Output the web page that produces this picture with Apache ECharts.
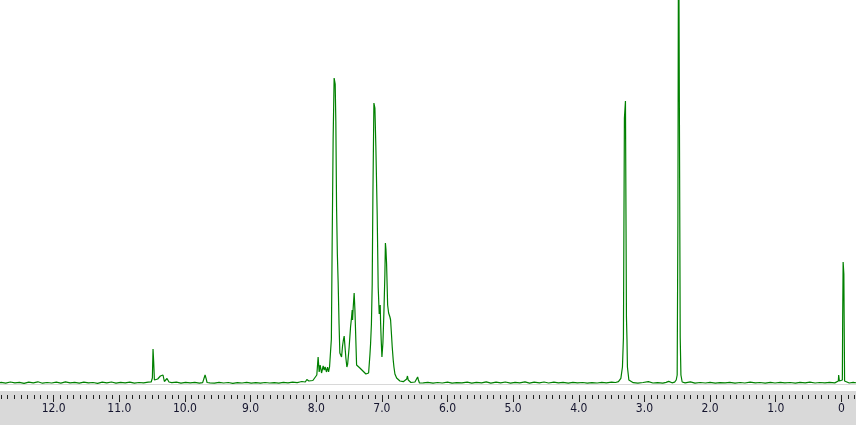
<!DOCTYPE html>
<html>
<head>
<meta charset="utf-8">
<script src="https://cdn.jsdelivr.net/npm/echarts@6.0.0/dist/echarts.min.js"></script>
<style>
html, body { margin: 0; padding: 0; background: #fff; }
#main { width: 856px; height: 425px; }
</style>
</head>
<body>
<div id="main"></div>
<script>
// 1H NMR spectrum, [shift in ppm, intensity]
var noiseHigh = [[12.95,1.2],[12.88,0.6],[12.8,1.6],[12.73,0.9],[12.66,2.0],[12.59,1.1],[12.52,1.7],[12.45,0.7],[12.38,1.9],[12.31,1.2],[12.24,2.2],[12.17,0.8],[12.1,1.5],[12.03,1.0],[11.96,1.8],[11.89,0.9],[11.82,2.1],[11.75,1.2],[11.68,1.6],[11.61,0.8],[11.54,1.9],[11.47,1.1],[11.4,1.5],[11.33,0.7],[11.26,1.8],[11.19,1.2],[11.12,2.0],[11.05,0.9],[10.98,1.6],[10.91,1.1],[10.84,1.9],[10.77,0.8],[10.7,1.5],[10.63,1.2],[10.56,1.8]];
var peakNH = [[10.514,2],[10.496,6],[10.486,35],[10.476,22],[10.465,4],[10.435,3],[10.415,5],[10.395,7],[10.374,8],[10.361,6],[10.349,6],[10.334,9],[10.313,2.5],[10.293,4],[10.273,5.5],[10.243,2]];
var noiseMid1 = [[10.2,1.3],[10.13,1.8],[10.06,0.9],[9.99,1.6],[9.92,1.1],[9.85,1.7],[9.78,0.8],[9.73,1.4]];
var peak97 = [[9.706,3],[9.693,9],[9.678,5.7],[9.663,1.5]];
var noiseMid2 = [[9.62,1.2],[9.55,0.8],[9.48,1.6],[9.41,1.0],[9.34,1.5],[9.27,0.7],[9.2,1.4],[9.13,1.0],[9.06,1.7],[8.99,0.9],[8.92,1.3],[8.85,0.8],[8.78,1.5],[8.71,1.0],[8.64,1.4],[8.57,0.9],[8.5,1.6],[8.43,1.1],[8.36,1.8],[8.29,1.3],[8.25,2]];
var aromatic = [[8.219,2.5],[8.189,4],[8.166,2],[8.143,4.5],[8.112,3],[8.082,5],[8.051,3.5],[8.021,5],[7.991,9],[7.971,27],[7.955,12],[7.940,19],[7.919,11],[7.894,18],[7.879,14],[7.864,17],[7.843,12],[7.827,17],[7.812,12],[7.797,17],[7.782,32],[7.769,45],[7.757,141],[7.742,246],[7.727,306],[7.711,300],[7.701,262],[7.690,177],[7.678,130],[7.666,102],[7.652,60],[7.640,31],[7.632,33],[7.614,27],[7.599,38],[7.586,44],[7.574,48],[7.560,36],[7.548,26],[7.533,17],[7.521,20],[7.498,37],[7.477,57],[7.461,67],[7.452,74],[7.446,64],[7.437,76],[7.422,91],[7.411,75],[7.401,54],[7.385,19],[7.365,17],[7.335,16],[7.304,14],[7.274,12],[7.243,10],[7.223,9],[7.202,11],[7.182,29],[7.172,40],[7.159,60],[7.147,100],[7.136,192],[7.121,281],[7.106,276],[7.091,236],[7.071,169],[7.056,97],[7.040,70],[7.025,79],[7.019,61],[7.010,44],[6.999,27],[6.989,28],[6.984,41],[6.969,71],[6.954,109],[6.946,141],[6.938,135],[6.928,120],[6.912,79],[6.897,71],[6.877,67],[6.867,64],[6.851,47],[6.842,37],[6.827,24],[6.816,17],[6.801,10],[6.775,6],[6.748,4],[6.725,3],[6.674,2.3],[6.649,2],[6.621,5],[6.610,8],[6.598,4],[6.583,2],[6.557,1.5],[6.527,2.5],[6.496,2],[6.473,4],[6.455,7],[6.443,4],[6.427,1],[6.405,0.8]];
var noiseMid3 = [[6.37,1.2],[6.3,1.7],[6.22,0.8],[6.15,1.5],[6.08,1.0],[6.0,1.8],[5.93,0.9],[5.86,1.4],[5.78,1.1],[5.7,1.9],[5.63,0.8],[5.56,1.6],[5.48,1.2],[5.41,2.1],[5.34,0.9],[5.26,1.8],[5.19,1.1],[5.12,2.0],[5.04,0.8],[4.97,1.7],[4.9,1.2],[4.82,2.2],[4.75,0.9],[4.68,1.8],[4.6,1.1],[4.53,2.0],[4.46,1.0],[4.38,1.9],[4.31,1.2],[4.24,1.7],[4.16,0.9],[4.09,1.6],[4.02,1.1],[3.94,1.5],[3.87,0.8],[3.8,1.4],[3.72,1.0],[3.65,1.6],[3.58,1.2],[3.5,1.8],[3.44,1.5]];
var waterPeak = [[3.396,2.3],[3.359,5.7],[3.335,17],[3.320,46],[3.305,266],[3.289,283],[3.274,67],[3.266,45],[3.259,17],[3.237,4],[3.218,2]];
var noiseMid4 = [[3.17,1.3],[3.1,0.8],[3.02,1.5],[2.94,2.4],[2.87,1.0],[2.8,1.4],[2.72,0.9],[2.67,1.6],[2.63,2.6],[2.58,1.2],[2.54,1.8]];
var dmsoPeak = [[2.516,4],[2.501,9],[2.490,164],[2.480,500],[2.462,500],[2.455,47],[2.444,9],[2.425,2]];
var noiseLow = [[2.38,1.2],[2.3,2.2],[2.23,0.9],[2.15,1.5],[2.07,1.0],[2.0,1.6],[1.92,0.8],[1.85,1.4],[1.77,1.1],[1.7,1.7],[1.62,0.9],[1.54,1.5],[1.47,1.0],[1.39,1.8],[1.31,1.1],[1.24,1.5],[1.16,0.8],[1.08,1.6],[1.01,1.0],[0.93,1.7],[0.86,1.2],[0.78,1.5],[0.7,0.9],[0.63,1.6],[0.55,1.1],[0.48,1.8],[0.4,1.0],[0.33,1.5],[0.25,1.2],[0.18,1.7],[0.1,1.1],[0.07,1.5]];
var tmsPeak = [[0.046,3],[0.041,9],[0.030,3],[0.008,1.2],[-0.015,4],[-0.020,63],[-0.027,122],[-0.038,110],[-0.049,3]];
var noiseEnd = [[-0.07,1.5],[-0.12,1.0],[-0.18,1.6],[-0.24,1.1],[-0.3,1.4],[-0.36,1.0]];

var spectrum = [].concat(noiseHigh, peakNH, noiseMid1, peak97, noiseMid2, aromatic,
	noiseMid3, waterPeak, noiseMid4, dmsoPeak, noiseLow, tmsPeak, noiseEnd);

var chart = echarts.init(document.getElementById('main'));

var option = {
	backgroundColor: '#ffffff',
	animation: false,
	graphic: [{
		type: 'rect',
		left: 0,
		top: 391,
		z: -10,
		shape: { width: 856, height: 34 },
		style: { fill: '#d9d9d9' }
	}],
	grid: { left: -12, right: -51, top: 0, bottom: 41, containLabel: false, outerBoundsMode: 'none' },
	xAxis: [{
		type: 'value',
		inverse: true,
		min: -1,
		max: 13,
		position: 'bottom',
		axisLine: { show: true, lineStyle: { color: '#d8d8d8', width: 1 } },
		axisTick: { show: false },
		axisLabel: { show: false },
		splitLine: { show: false }
	}, {
		type: 'value',
		inverse: true,
		min: -1,
		max: 13,
		interval: 1,
		position: 'bottom',
		offset: 11,
		axisLine: { show: false },
		axisTick: { show: true, length: 7, lineStyle: { color: '#222222' } },
		minorTick: { show: true, splitNumber: 10, length: 4, lineStyle: { color: '#222222' } },
		axisLabel: {
			margin: 8,
			fontFamily: 'DejaVu Sans Condensed, DejaVu Sans',
			fontSize: 12,
			color: '#14142e',
			formatter: function (v) { return v === 0 ? '0' : v.toFixed(1); }
		},
		splitLine: { show: false }
	}],
	yAxis: { type: 'value', min: 0, max: 384, show: false },
	series: [{
		type: 'line',
		xAxisIndex: 0,
		data: spectrum,
		showSymbol: false,
		clip: true,
		lineStyle: { color: '#008000', width: 1.2 }
	}]
};
chart.setOption(option);
</script>
</body>
</html>
